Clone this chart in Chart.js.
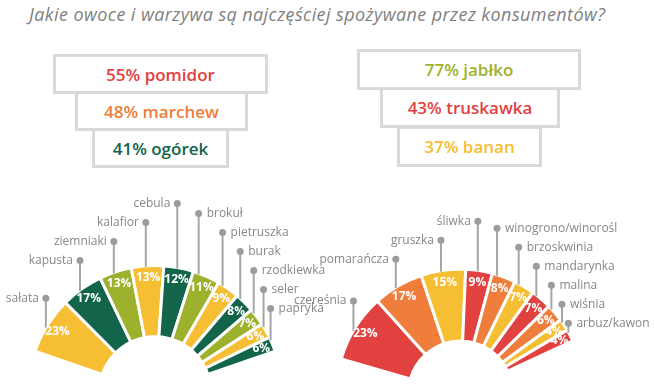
<!DOCTYPE html>
<html>
<head>
<meta charset="utf-8">
<script src="https://cdn.jsdelivr.net/npm/chart.js@4"></script>
<style>
  html, body { margin: 0; padding: 0; background: #fff; }
  #page { position: relative; width: 655px; height: 390px; overflow: hidden; font-family: 'Open Sans', sans-serif; }
  #title { position: absolute; left: 29px; top: 3px; font-style: italic; font-size: 18px; color: #7f7f7f; white-space: nowrap; line-height: 22px; }
  .box { position: absolute; box-sizing: border-box; border: 3px solid #d9d9d9; background: #fff;
         display: flex; align-items: center; justify-content: center; font-weight: 600; font-size: 17px; }
  canvas { position: absolute; left: 0; top: 0; }
</style>
</head>
<body>
<div id="page">
  <div id="title">Jakie owoce i warzywa są najczęściej spożywane przez konsumentów?</div>
  <canvas id="veg" width="360" height="280"></canvas>
  <canvas id="fruit" width="400" height="280"></canvas>
</div>
<script>
// top 3
const topVegNames = ['pomidor', 'marchew', 'ogórek'];
const topVegShares = [55, 48, 41];
const topFruitNames = ['jabłko', 'truskawka', 'banan'];
const topFruitShares = [77, 43, 37];

// half donuts
const vegNames = ['sałata', 'kapusta', 'ziemniaki', 'kalafior', 'cebula', 'brokuł', 'pietruszka', 'burak', 'rzodkiewka', 'seler', 'papryka'];
const vegShares = [23, 17, 13, 13, 12, 11, 9, 8, 7, 6, 6];
const fruitNames = ['czereśnia', 'pomarańcza', 'gruszka', 'śliwka', 'winogrono/winorośl', 'brzoskwinia', 'mandarynka', 'malina', 'wiśnia', 'arbuz/kawon'];
const fruitShares = [23, 17, 15, 9, 8, 7, 7, 6, 4, 4];

const RED = '#e1413f', ORANGE = '#ef7d3b', YELLOW = '#f6be32', GREEN = '#12644a', OLIVE = '#9db12d';

const page = document.getElementById('page');

// title stretched to the width of the original
const title = document.getElementById('title');
const tw = title.getBoundingClientRect().width;
title.style.letterSpacing = ((576 - tw) / (title.textContent.length - 1)) + 'px';

function podium(names, shares, colors, boxes) {
  names.forEach((name, i) => {
    const [x, y, w, h] = boxes[i];
    const el = document.createElement('div');
    el.className = 'box';
    el.style.cssText = `left:${x}px;top:${y}px;width:${w}px;height:${h}px;color:${colors[i]};z-index:${3 - i}`;
    el.textContent = `${shares[i]}% ${name}`;
    page.appendChild(el);
  });
}
podium(topVegNames, topVegShares, [RED, ORANGE, GREEN], [[53, 54, 215, 40], [75, 91, 173, 40], [92, 128, 137, 40]]);
podium(topFruitNames, topFruitShares, [OLIVE, RED, YELLOW], [[357, 49, 224, 41], [380, 87, 180, 41], [397, 126, 145, 41]]);

const leaders = {
  id: 'leaders',
  afterDatasetsDraw(chart, args, opts) {
    const ctx = chart.ctx;
    const arcs = chart.getDatasetMeta(0).data;
    const names = chart.data.labels;
    const values = chart.data.datasets[0].data;
    const peak = arcs.findIndex(a => a.startAngle >= -Math.PI / 2 - 0.02);
    ctx.save();
    arcs.forEach((arc, i) => {
      const { x, y, startAngle, endAngle, outerRadius } = arc;
      const left = i <= peak;
      const a = startAngle + (endAngle - startAngle) * (left ? 0.45 : 0.2);
      const lx = x + outerRadius * Math.cos(a);
      const edgeY = y + (outerRadius - 1) * Math.sin(a);
      let dotY = left
        ? y - opts.top + opts.step * (peak - i)
        : y - opts.top + opts.firstStep + opts.step * (i - peak - 1);
      // the first slice keeps a short leader
      if (i === 0) dotY = Math.max(dotY, edgeY - opts.firstLen);

      ctx.strokeStyle = '#a6a6a6';
      ctx.lineWidth = 2;
      ctx.beginPath();
      ctx.moveTo(lx, edgeY);
      ctx.lineTo(lx, dotY);
      ctx.stroke();
      ctx.fillStyle = '#9c9c9c';
      ctx.beginPath();
      ctx.arc(lx, dotY, 3.5, 0, Math.PI * 2);
      ctx.fill();

      ctx.font = '12px "Open Sans"';
      ctx.fillStyle = '#878787';
      ctx.textBaseline = 'middle';
      ctx.textAlign = left ? 'right' : 'left';
      ctx.fillText(names[i], left ? lx - 7 : lx + 8, dotY);

      // value inside the slice
      const m = (startAngle + endAngle) / 2;
      const r = outerRadius - 12;
      ctx.font = 'bold 12px "Open Sans"';
      ctx.fillStyle = '#ffffff';
      ctx.textAlign = 'center';
      ctx.fillText(values[i] + '%', x + r * Math.cos(m), y + r * Math.sin(m));
    });
    ctx.restore();
  }
};

function halfDonut(id, names, shares, palette, cfg) {
  const canvas = document.getElementById(id);
  const chart = new Chart(canvas, {
    type: 'doughnut',
    data: {
      labels: names,
      datasets: [{
        data: shares,
        backgroundColor: shares.map((_, i) => palette[i % palette.length]),
        borderColor: '#ffffff',
        borderWidth: 3
      }]
    },
    options: {
      responsive: false,
      animation: false,
      events: [],
      rotation: cfg.rotation,
      circumference: cfg.circumference,
      radius: cfg.radius,
      cutout: cfg.cutout,
      plugins: {
        legend: { display: false },
        tooltip: { enabled: false },
        leaders: cfg.leaders
      }
    },
    plugins: [leaders]
  });
  const arc = chart.getDatasetMeta(0).data[0];
  canvas.style.left = (cfg.cx - arc.x) + 'px';
  canvas.style.top = (cfg.cy - arc.y) + 'px';
  return chart;
}

halfDonut('veg', vegNames, vegShares, [YELLOW, GREEN, OLIVE], {
  cx: 155, cy: 393, rotation: -71, circumference: 142, radius: 127, cutout: '44%',
  leaders: { top: 189, step: 19, firstStep: 10, firstLen: 30 }
});
halfDonut('fruit', fruitNames, fruitShares, [RED, ORANGE, YELLOW], {
  cx: 460, cy: 393, rotation: -74, circumference: 139, radius: 124, cutout: '42%',
  leaders: { top: 172, step: 19, firstStep: 7, firstLen: 30 }
});
</script>
</body>
</html>
